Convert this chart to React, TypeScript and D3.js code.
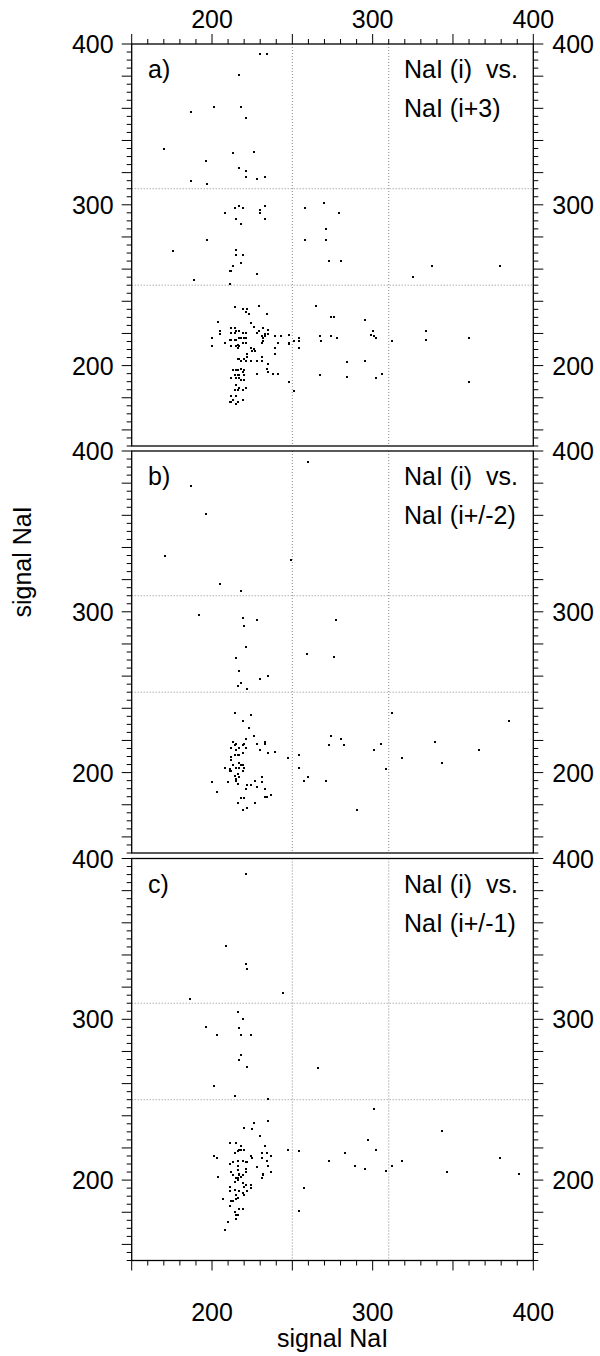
import React from 'react';
import * as d3 from 'd3';

const X_DOMAIN: [number, number] = [150, 400];
const Y_DOMAIN: [number, number] = [150, 400];
const X_TICK_LABELS = [200, 300, 400];
const Y_TICK_LABELS = [200, 300, 400];
const GRID_X = [250, 310];
const GRID_Y = [310, 250];
const PANEL_IDS = ['a)', 'b)', 'c)'];
const PANEL_LINE1 = ['NaI (i)  vs.', 'NaI (i)  vs.', 'NaI (i)  vs.'];
const PANEL_LINE2 = ['NaI (i+3)', 'NaI (i+/-2)', 'NaI (i+/-1)'];
const AXIS_TITLE = 'signal NaI';

const panelA: [number, number][] = [
  [230,394],[234,394],[217,381],[187,358],[201,361],[218,361],[221,354],[170,335],[213,332],[226,333],
  [196,327],[217,323],[221,321],[221,317],[228,316],[233,317],[187,315],[197,313],[217,299],[214,298],
  [219,298],[233,299],[230,297],[230,295],[208,295],[215,291],[233,291],[218,288],[197,278],[176,271],
  [215,272],[215,269],[219,269],[218,264],[213,262],[211,259],[212,259],[189,253],[228,257],[211,251],
  [258,298],[270,301],[279,295],[271,285],[258,278],[271,278],[273,265],[280,265],[325,255],[337,262],[379,262],
  [214,236.4],[219,235.4],[222,235.4],[221,233.3],[223,232.3],[229,237.1],[234,232.3],[265,237.1],[274,230.2],[276,230.2],
  [295,228.2],[204,227.1],[224,226.3],[226,224.2],[205,221.3],[205,219.5],[200,217.2],[200,212.2],[208,214.3],[211,216.1],
  [212,223.4],[214,223.4],[212,220.1],[214,220.1],[215,221.3],[217,221.3],[219,220.1],[221,220.1],[212,216.1],[214,216.1],
  [215,216.1],[217,217.2],[218,217.2],[220,217.2],[221,217.2],[212,212.2],[215,212.2],[216,213.0],[217,212.2],[219,214.1],
  [221,214.1],[216,211.2],[224,211.2],[225,209.1],[226,210.1],[227,209.1],[228,220.1],[229,221.3],[232,223.4],[233,219.5],
  [231,218.2],[233,218.2],[235,222.4],[235,219.5],[232,217.2],[231,214.1],[232,215.1],[239,218.2],[241,214.1],[239,211.2],
  [239,207.2],[243,218.2],[248,219.3],[248,214.3],[248,213.3],[251,215.1],[254,217.2],[254,215.1],[254,211.2],[267,218.2],
  [268,215.1],[274,218.2],[278,217.2],[299,219.3],[300,221.3],[301,218.2],[302,217.2],[312,215.1],[333,221.3],[333,216.1],
  [360,217.2],
  [216,204.1],[217,204.1],[220,204.1],[218,203.1],[221,203.1],[222,207.2],[222,205.2],[224,203.1],[228,203.1],[231,205.2],
  [231,203.1],[235,201.2],[234,198.1],[235,196.1],[228,195.0],[238,195.0],[241,195.0],[213,197.1],[215,197.1],[216,197.1],
  [218,198.1],[220,197.1],[214,194.2],[216,194.2],[217,194.2],[219,196.1],[220,194.2],[212,192.1],[215,192.1],[217,192.1],
  [218,191.1],[220,191.1],[215,188.2],[214,185.1],[216,185.1],[217,186.1],[219,185.1],[221,186.1],[212,181.2],[215,181.2],
  [211,177.2],[212,177.2],[213,178.3],[215,176.2],[216,177.2],[219,178.3],[248,190.1],[251,184.1],[267,194.2],[284,202.3],
  [284,193.2],[295,203.1],[302,192.1],[306,195.0],[360,190.1]
];

const panelB: [number, number][] = [
  [260,393],[187,378],[196,361],[171,335],[249,332],[205,317],[218,313],[192,298],[219,296],[228,295],
  [220,291],[277,295],[221,278],[215,271],[259,274],[276,272],[217,263],[218,256],[216,254],[222,252],
  [230,258],[235,260],
  [214,237],[224,236],[219,232],[223,228],[312,237],[385,232],
  [226,223],[221,221],[220,218],[219,217],[213,219],[215,218],[214,217],[212,215],[217,215],[215,214],
  [221,215],[214,211],[216,211],[217,211],[219,212],[212,210],[212,208],[217,206],[218,205],[213,205],
  [219,205],[208,203],[211,202],[212,201],[211,201],[215,203],[217,203],[220,203],[219,201],[214,198],
  [215,196],[216,199],[217,197],[215,195],[216,193],[210,194],[200,194],[203,188],[221,190],[222,192],
  [224,192],[228,191],[227,195],[231,197],[231,194],[233,190],[233,185],[234,185],[237,186],[218,184],
  [220,184],[216,181],[219,177],[222,178],[227,181],[228,218],[230,214],[233,219],[233,218],[235,212],
  [239,213],[247,209],[254,211],[254,203],[257,195],[260,197],[271,195],[273,217],[274,223],[280,221],
  [282,217],[290,177],[301,214],[305,218],[308,202],[318,209],[339,219],[343,206],[366,214]
];

const panelC: [number, number][] = [
  [221,390.5],[209,345.3],[221,334.6],[222,331.5],[244,316.6],[186,312.6],
  [216,304.6],[219,300.4],[196,295.4],[217,294.4],[203,290.5],[218,290.5],[224,290.5],[218,277.6],[217,274.5],
  [222,270.6],[266,269.6],[201,258.8],[214,252.6],[235,250.7],[301,244.5],[235,236.6],[226,235.6],[220,232.7],
  [225,231.7],[230,227.7],[343,230.7],
  [297,224.8],[211,222.8],[215,222.8],[302,218.8],[283,216.8],[247,218.8],[254,217.8],[273,211.8],[289,208.9],
  [295,206.8],[308,205.8],[312,208.9],[318,211.8],[379,213.9],[346,204.8],[391,203.9],[257,194.8],[254,181],
  [201,215],[203,214],[204,202],[214,217],[217,219],[216,218],[218,219],[220,219],[218,221],[211,210],
  [213,211],[216,212],[216,209],[219,212],[221,211],[222,211],[225,214],[224,215],[228,208],[231,217],
  [231,214],[233,221],[234,217],[237,215],[235,209],[234,212],[237,205],[232,204],[232,203],[231,201],
  [212,205],[213,203],[216,206],[217,204],[219,203],[221,207],[221,205],[215,201],[216,201],[214,199],
  [216,200],[217,203],[218,202],[219,198],[220,196],[221,197],[222,193],[224,197],[224,195],[211,196],
  [211,193],[214,194],[217,193],[219,192],[220,191],[215,191],[215,188],[216,189],[207,188],[212,187],
  [213,187],[211,184],[214,180],[215,178],[216,178],[215,176],[217,182],[219,182],[210,174],[208,169]
];

const PANELS = [panelA, panelB, panelC];

const FONT = "'Liberation Sans', Arial, Helvetica, sans-serif";

export default function App() {
  const W = 600;
  const H = 1356;
  const left = 131.7;
  const right = 533.3;
  const tops = [44, 451, 858.5];
  const ph = 402;
  const fs = 25;

  const x = d3.scaleLinear().domain(X_DOMAIN).range([left, right]);
  const xTicks = d3.range(150, 401, 10);
  const yTicks = d3.range(150, 401, 5);

  return (
    <div style={{ position: 'absolute', left: 0, top: 0 }}>
      <svg width={W} height={H} style={{ display: 'block', background: '#fff' }} fontFamily={FONT}>
        <rect x={0} y={0} width={W} height={H} fill="#fff" />
        {PANELS.map((data, pi) => {
          const top = tops[pi];
          const y = d3.scaleLinear().domain(Y_DOMAIN).range([top + ph, top]);
          return (
            <g key={pi}>
              {GRID_X.map((g) => (
                <line key={'gx' + g} x1={x(g)} x2={x(g)} y1={top} y2={top + ph}
                  stroke="#8a8a8a" strokeWidth={1} strokeDasharray="1,2" />
              ))}
              {GRID_Y.map((g) => (
                <line key={'gy' + g} x1={left} x2={right} y1={y(g)} y2={y(g)}
                  stroke="#8a8a8a" strokeWidth={1} strokeDasharray="1,2" />
              ))}
              {yTicks.map((t) => {
                const len = t % 20 === 0 ? 10 : 5;
                return (
                  <g key={'yt' + t}>
                    <line x1={left - len} x2={left} y1={y(t)} y2={y(t)} stroke="#000" strokeWidth={1} />
                    <line x1={right} x2={right + len} y1={y(t)} y2={y(t)} stroke="#000" strokeWidth={1} />
                  </g>
                );
              })}
              {Y_TICK_LABELS.map((t) => (
                <g key={'yl' + t}>
                  <text x={left - 18} y={y(t)} dy="0.36em" textAnchor="end" fontSize={fs}>{t}</text>
                  <text x={right + 19} y={y(t)} dy="0.36em" textAnchor="start" fontSize={fs}>{t}</text>
                </g>
              ))}
              <rect x={left} y={top} width={right - left} height={ph} fill="none" stroke="#000" strokeWidth={1.3} />
              {data.map((d, i) => (
                <rect key={i} x={Math.round(x(d[0])) - 1} y={Math.round(y(d[1])) - 1} width={2} height={2}
                  fill="#000" shapeRendering="crispEdges" />
              ))}
              <text x={148} y={top + 34} fontSize={fs}>{PANEL_IDS[pi]}</text>
              <text x={404} y={top + 34} fontSize={fs} style={{ whiteSpace: 'pre' }}>{PANEL_LINE1[pi]}</text>
              <text x={404} y={top + 73} fontSize={fs} style={{ whiteSpace: 'pre' }}>{PANEL_LINE2[pi]}</text>
            </g>
          );
        })}
        {xTicks.map((t) => {
          const len = t % 50 === 0 ? 10 : 5;
          return (
            <g key={'xt' + t}>
              <line x1={x(t)} x2={x(t)} y1={tops[0] - len} y2={tops[0]} stroke="#000" strokeWidth={1} />
              <line x1={x(t)} x2={x(t)} y1={tops[2] + ph} y2={tops[2] + ph + len} stroke="#000" strokeWidth={1} />
            </g>
          );
        })}
        {X_TICK_LABELS.map((t) => (
          <g key={'xl' + t}>
            <text x={x(t)} y={28} textAnchor="middle" fontSize={fs}>{t}</text>
            <text x={x(t)} y={1321} textAnchor="middle" fontSize={fs}>{t}</text>
          </g>
        ))}
        <text x={x(275)} y={1347} textAnchor="middle" fontSize={fs}>{AXIS_TITLE}</text>
        <text transform="translate(31,562) rotate(-90)" textAnchor="middle" fontSize={fs}>{AXIS_TITLE}</text>
      </svg>
    </div>
  );
}
